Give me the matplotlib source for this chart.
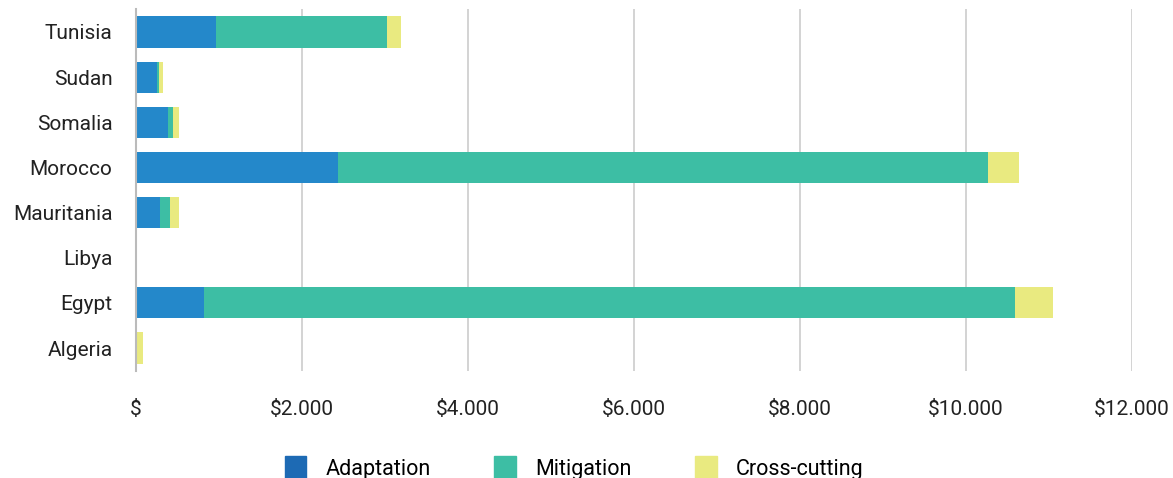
import matplotlib.pyplot as plt
import numpy as np
from matplotlib.patches import Patch

plt.rcParams["font.family"] = ["Roboto", "DejaVu Sans"]

countries = ["Tunisia", "Sudan", "Somalia", "Morocco", "Mauritania", "Libya", "Egypt", "Algeria"]
adaptation = [962, 253, 385, 2434, 289, 0, 819, 0]
mitigation = [2062, 24, 61, 7831, 121, 0, 9771, 0]
cross_cutting = [169, 48, 72, 374, 108, 0, 458, 84]
x_ticks = [0, 2000, 4000, 6000, 8000, 10000, 12000]
x_tick_labels = ["$", "$2.000", "$4.000", "$6.000", "$8.000", "$10.000", "$12.000"]

C_ADAPT = "#2488CA"
C_ADAPT_LEG = "#1D6AB4"
C_MITIG = "#3DBEA4"
C_CROSS = "#E9EA80"

fig = plt.figure(figsize=(11.73, 4.78), dpi=100)
ax = fig.add_axes([0.116, 0.2247, 0.849, 0.7556])

y = np.arange(len(countries))
adapt = np.array(adaptation)
mitig = np.array(mitigation)
cross = np.array(cross_cutting)
h = 0.69
ax.barh(y, adapt, height=h, color=C_ADAPT, zorder=2)
ax.barh(y, mitig, left=adapt, height=h, color=C_MITIG, zorder=2)
ax.barh(y, cross, left=adapt + mitig, height=h, color=C_CROSS, zorder=2)

ax.set_ylim(len(countries) - 0.5, -0.5)
ax.set_yticks(y)
ax.set_yticklabels(countries, fontsize=15, color="#222222")
ax.set_xlim(0, 12000)
ax.set_xticks(x_ticks)
ax.set_xticklabels(x_tick_labels, fontsize=15, color="#222222")
ax.tick_params(axis="both", length=0)
ax.tick_params(axis="x", pad=21)
ax.tick_params(axis="y", pad=17)
ax.grid(True, axis="x", color="#CCCCCC", linewidth=1.2, zorder=0)
for s in ["top", "right", "bottom"]:
    ax.spines[s].set_visible(False)
ax.spines["left"].set_color("#BBBBBB")
ax.spines["left"].set_linewidth(1.5)

handles = [Patch(color=C_ADAPT_LEG), Patch(color=C_MITIG), Patch(color=C_CROSS)]
fig.legend(handles, ["Adaptation", "Mitigation", "Cross-cutting"], loc="center",
           bbox_to_anchor=(0.4895, 0.021), ncol=3, frameon=False, fontsize=15.5,
           handlelength=1.0, handleheight=1.2, handletextpad=0.9, columnspacing=2.95)

fig.savefig("out.png", dpi=100)
